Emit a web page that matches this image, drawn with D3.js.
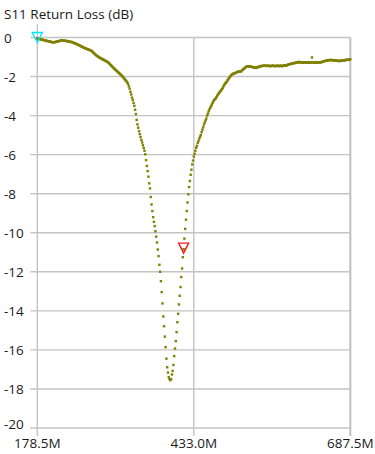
<!DOCTYPE html>
<html>
<head>
<meta charset="utf-8">
<script src="https://cdn.jsdelivr.net/npm/d3@7"></script>
<style>
  html, body { margin: 0; padding: 0; background: #fff; }
  svg { display: block; font-family: "Open Sans", sans-serif; }
</style>
</head>
<body>
<div id="chart"></div>
<script>
const title = 'S11 Return Loss (dB)';

// sweep, MHz (401 points)
const sweepStart = 178.5;
const sweepStop = 687.5;

const xTicks = [178.5, 433.0, 687.5];
const xTickLabels = ['178.5M', '433.0M', '687.5M'];
const yTicks = [0, -2, -4, -6, -8, -10, -12, -14, -16, -18, -20];

// S11 in dB, one value per sweep point
const s11 = [
  -0.05,-0.06,-0.07,-0.08,-0.09,-0.10,-0.11,-0.12,-0.13,-0.14,
  -0.15,-0.16,-0.17,-0.18,-0.19,-0.20,-0.21,-0.22,-0.23,-0.24,
  -0.24,-0.25,-0.24,-0.23,-0.22,-0.21,-0.20,-0.19,-0.18,-0.17,
  -0.16,-0.15,-0.15,-0.16,-0.16,-0.17,-0.17,-0.18,-0.18,-0.19,
  -0.20,-0.21,-0.22,-0.23,-0.23,-0.25,-0.27,-0.28,-0.30,-0.31,
  -0.33,-0.35,-0.37,-0.39,-0.41,-0.43,-0.45,-0.47,-0.49,-0.51,
  -0.53,-0.55,-0.57,-0.58,-0.60,-0.61,-0.63,-0.64,-0.66,-0.68,
  -0.71,-0.75,-0.79,-0.83,-0.87,-0.90,-0.93,-0.96,-0.99,-1.02,
  -1.04,-1.06,-1.08,-1.11,-1.13,-1.15,-1.17,-1.19,-1.21,-1.24,
  -1.26,-1.29,-1.33,-1.37,-1.42,-1.46,-1.50,-1.54,-1.58,-1.62,
  -1.66,-1.69,-1.73,-1.77,-1.81,-1.84,-1.88,-1.92,-1.96,-2.00,
  -2.05,-2.10,-2.15,-2.20,-2.25,-2.30,-2.38,-2.50,-2.62,-2.78,
  -2.92,-3.08,-3.20,-3.35,-3.50,-3.70,-3.92,-4.22,-4.45,-4.62,
  -4.80,-4.95,-5.10,-5.25,-5.38,-5.52,-5.66,-5.80,-5.98,-6.28,
  -6.58,-6.84,-7.13,-7.47,-7.73,-8.17,-8.55,-8.89,-9.20,-9.44,
  -9.66,-9.92,-10.20,-10.50,-10.86,-11.20,-11.64,-12.00,-12.48,-13.04,
  -13.62,-14.29,-14.79,-15.32,-15.86,-16.45,-16.89,-17.16,-17.40,-17.50,
  -17.55,-17.50,-17.26,-17.08,-16.77,-16.32,-15.93,-15.55,-15.09,-14.58,
  -14.15,-13.67,-13.23,-12.78,-12.27,-11.83,-11.25,-10.84,-10.30,-9.80,
  -9.33,-8.89,-8.45,-8.03,-7.66,-7.35,-7.03,-6.77,-6.50,-6.30,
  -6.10,-5.95,-5.80,-5.65,-5.55,-5.40,-5.30,-5.18,-5.08,-5.00,
  -4.85,-4.72,-4.60,-4.46,-4.35,-4.25,-4.15,-4.00,-3.90,-3.78,
  -3.68,-3.60,-3.52,-3.44,-3.35,-3.27,-3.20,-3.16,-3.12,-3.05,
  -2.97,-2.92,-2.86,-2.80,-2.75,-2.70,-2.65,-2.58,-2.50,-2.42,
  -2.36,-2.32,-2.27,-2.20,-2.14,-2.08,-2.03,-1.97,-1.92,-1.90,
  -1.86,-1.85,-1.83,-1.82,-1.80,-1.78,-1.76,-1.75,-1.75,-1.74,
  -1.72,-1.73,-1.67,-1.63,-1.60,-1.57,-1.53,-1.50,-1.48,-1.47,
  -1.48,-1.47,-1.48,-1.50,-1.50,-1.52,-1.53,-1.52,-1.55,-1.56,
  -1.54,-1.52,-1.53,-1.50,-1.48,-1.47,-1.47,-1.45,-1.46,-1.44,
  -1.45,-1.44,-1.45,-1.46,-1.45,-1.44,-1.46,-1.45,-1.47,-1.46,
  -1.45,-1.44,-1.46,-1.45,-1.47,-1.46,-1.45,-1.44,-1.46,-1.47,
  -1.45,-1.44,-1.46,-1.47,-1.45,-1.44,-1.42,-1.43,-1.44,-1.42,
  -1.40,-1.38,-1.37,-1.36,-1.35,-1.35,-1.33,-1.32,-1.32,-1.30,
  -1.30,-1.28,-1.27,-1.27,-1.25,-1.28,-1.26,-1.27,-1.28,-1.27,
  -1.29,-1.28,-1.27,-1.29,-1.28,-1.27,-1.29,-1.28,-1.28,-1.27,
  -1.29,-1.02,-1.28,-1.29,-1.28,-1.27,-1.29,-1.28,-1.29,-1.28,
  -1.27,-1.28,-1.26,-1.27,-1.25,-1.24,-1.22,-1.21,-1.20,-1.19,
  -1.18,-1.17,-1.16,-1.16,-1.15,-1.16,-1.15,-1.16,-1.17,-1.16,
  -1.18,-1.17,-1.19,-1.18,-1.20,-1.19,-1.21,-1.20,-1.19,-1.18,
  -1.17,-1.18,-1.16,-1.17,-1.15,-1.14,-1.15,-1.13,-1.14,-1.13,
  -1.12
];

// sweep point index of each marker
const markerPoints = [0, 187];

const config = {
  parentElement: '#chart',
  containerWidth: 375,
  containerHeight: 454,
  margin: { top: 37.5, right: 24.7, bottom: 26, left: 37.3 }
};

const vis = {};
vis.width = config.containerWidth - config.margin.left - config.margin.right;
vis.height = config.containerHeight - config.margin.top - config.margin.bottom;

const step = (sweepStop - sweepStart) / (s11.length - 1);
vis.data = s11.map((v, i) => ({ id: i, freq: sweepStart + i * step, value: v }));

vis.xScale = d3.scaleLinear().domain([sweepStart, sweepStop]).range([0, vis.width]);
vis.yScale = d3.scaleLinear().domain([-20, 0]).range([vis.height, 0]);

vis.svg = d3.select(config.parentElement)
  .append('svg')
  .attr('width', config.containerWidth)
  .attr('height', config.containerHeight);

vis.svg.append('text')
  .attr('x', 4)
  .attr('y', 19)
  .attr('font-size', 13.5)
  .attr('fill', '#1a1a1a')
  .text(title);

vis.chart = vis.svg.append('g')
  .attr('transform', `translate(${config.margin.left},${config.margin.top})`);

const gridColor = '#c4c4c4';

// horizontal grid
vis.chart.append('g').selectAll('line')
  .data(yTicks)
  .join('line')
  .attr('x1', -7)
  .attr('x2', vis.width)
  .attr('y1', d => vis.yScale(d))
  .attr('y2', d => vis.yScale(d))
  .attr('stroke', gridColor)
  .attr('stroke-width', 1.4);

// vertical grid + ticks
vis.chart.append('g').selectAll('line')
  .data(xTicks)
  .join('line')
  .attr('x1', d => vis.xScale(d))
  .attr('x2', d => vis.xScale(d))
  .attr('y1', (d, i) => i === 0 ? -13.5 : 0)
  .attr('y2', vis.height + 8)
  .attr('stroke', gridColor)
  .attr('stroke-width', (d, i) => i === xTicks.length - 1 ? 2.2 : 1.4);

// y labels (bottom one kept above the x labels)
vis.chart.append('g').selectAll('text')
  .data(yTicks)
  .join('text')
  .attr('x', 4 - config.margin.left)
  .attr('y', d => Math.min(vis.yScale(d) + 5, vis.height + 0.5))
  .attr('font-size', 13.5)
  .attr('fill', '#1a1a1a')
  .text(d => d);

vis.chart.append('g').selectAll('text')
  .data(xTicks)
  .join('text')
  .attr('x', d => vis.xScale(d))
  .attr('y', vis.height + 20)
  .attr('text-anchor', 'middle')
  .attr('font-size', 13.5)
  .attr('fill', '#1a1a1a')
  .text((d, i) => xTickLabels[i]);

// trace, one square dot per sweep point
const dot = 2.4;
vis.chart.append('g').selectAll('.point')
  .data(vis.data, d => d.id)
  .join('rect')
  .attr('class', 'point')
  .attr('x', d => vis.xScale(d.freq) - dot / 2)
  .attr('y', d => vis.yScale(d.value) - dot / 2)
  .attr('width', dot)
  .attr('height', dot)
  .attr('fill', '#7f7f00');

const markerColors = ['#00e6f6', '#ee1c1c'];
vis.chart.append('g').selectAll('path')
  .data(markerPoints)
  .join('path')
  .attr('d', idx => {
    const d = vis.data[idx];
    const x = vis.xScale(d.freq), y = vis.yScale(d.value);
    return `M${x - 5},${y - 6}L${x + 5},${y - 6}L${x},${y + 4}Z`;
  })
  .attr('fill', 'none')
  .attr('stroke', (d, i) => markerColors[i])
  .attr('stroke-width', 1.4);
</script>
</body>
</html>
